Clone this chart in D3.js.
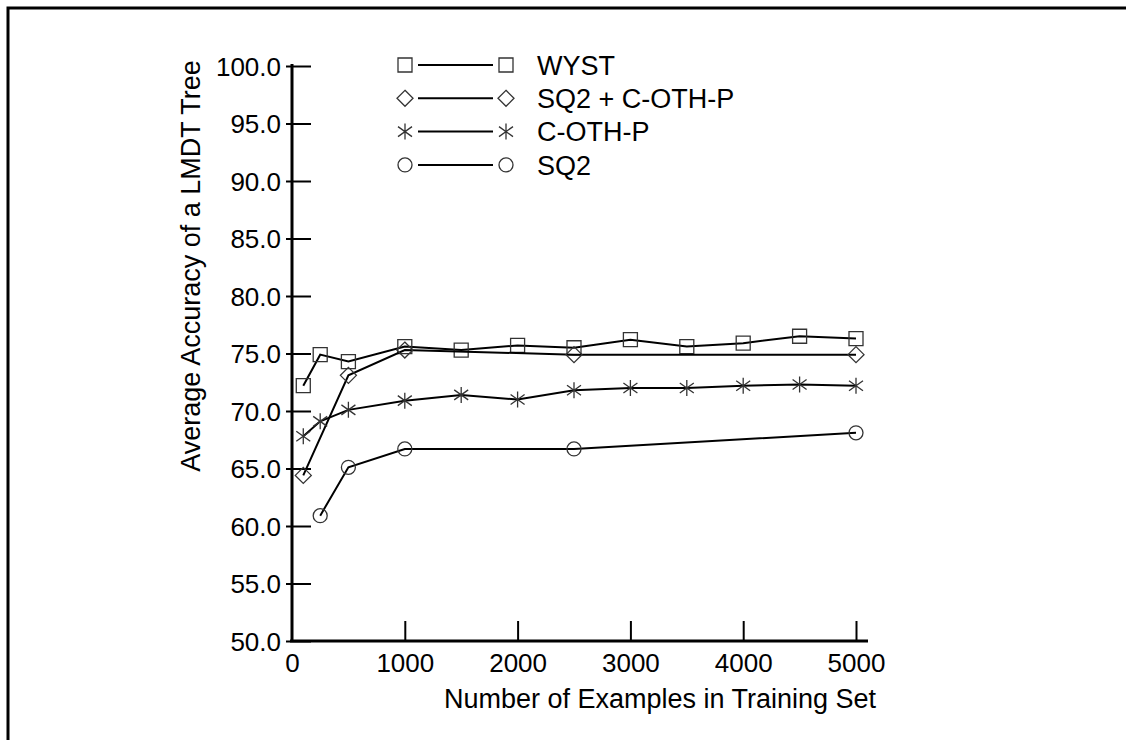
<!DOCTYPE html>
<html><head><meta charset="utf-8">
<script src="https://cdn.jsdelivr.net/npm/d3@7"></script>
<style>
html,body{margin:0;padding:0;background:#fff;}
text{font-family:"Liberation Sans",Arial,Helvetica,sans-serif;fill:#000;}
</style></head>
<body>
<svg id="c" width="1126" height="740"></svg>
<script>
// ---- data ----
const seriesNames = ["WYST", "SQ2 + C-OTH-P", "C-OTH-P", "SQ2"];
const wystX = [100, 250, 500, 1000, 1500, 2000, 2500, 3000, 3500, 4000, 4500, 5000];
const wystY = [72.2, 74.9, 74.3, 75.6, 75.3, 75.7, 75.5, 76.2, 75.6, 75.9, 76.5, 76.3];
const combX = [100, 500, 1000, 2500, 5000];
const combY = [64.4, 73.1, 75.3, 74.9, 74.9];
const cothX = [100, 250, 500, 1000, 1500, 2000, 2500, 3000, 3500, 4000, 4500, 5000];
const cothY = [67.8, 69.1, 70.1, 70.9, 71.4, 71.0, 71.8, 72.0, 72.0, 72.2, 72.3, 72.2];
const sq2X = [250, 500, 1000, 2500, 5000];
const sq2Y = [60.9, 65.1, 66.7, 66.7, 68.1];
const yTicks = [50, 55, 60, 65, 70, 75, 80, 85, 90, 95, 100];
const xTicks = [0, 1000, 2000, 3000, 4000, 5000];
const xTitle = "Number of Examples in Training Set";
const yTitle = "Average Accuracy of a LMDT Tree";

const svg = d3.select("#c");
const x = d3.scaleLinear().domain([0, 5000]).range([292, 856]);
const y = d3.scaleLinear().domain([50, 100]).range([641, 66]);

// frame
svg.append("path").attr("d", "M8,740 L8,8 L1126,8").attr("fill", "none")
  .attr("stroke", "#000").attr("stroke-width", 3);

const FS = 26;

// y axis
const yAxis = svg.append("g").attr("transform", `translate(${x(0)},0)`)
  .call(d3.axisLeft(y).tickValues(yTicks).tickFormat(d3.format(".1f")).tickSize(0).tickPadding(11));
yAxis.select(".domain").remove();
yAxis.selectAll(".tick line").attr("x1", -6).attr("x2", 19).attr("stroke", "#000").attr("stroke-width", 2);
yAxis.selectAll(".tick text").attr("font-size", FS).attr("font-family", null).attr("dy", "0.36em");
svg.append("line").attr("x1", x(0)).attr("x2", x(0)).attr("y1", y(100) - 2).attr("y2", y(50) + 1)
  .attr("stroke", "#000").attr("stroke-width", 3);

// x axis
const xAxis = svg.append("g").attr("transform", `translate(0,${y(50)})`)
  .call(d3.axisBottom(x).tickValues(xTicks).tickFormat(d3.format("d")).tickSize(0).tickPadding(13));
xAxis.select(".domain").remove();
xAxis.selectAll(".tick text").attr("font-size", FS).attr("font-family", null).attr("dy", "0.71em");
xAxis.selectAll(".tick").filter(d => d !== 0).select("line").attr("y2", -20).attr("stroke", "#000").attr("stroke-width", 2);
svg.append("line").attr("x1", x(0) - 2).attr("x2", x(5000) + 12).attr("y1", y(50)).attr("y2", y(50))
  .attr("stroke", "#000").attr("stroke-width", 3);

// titles
svg.append("text").attr("x", 660).attr("y", 708).attr("text-anchor", "middle")
  .attr("font-size", 27).text(xTitle);
svg.append("text").attr("transform", "translate(200,266) rotate(-90)").attr("text-anchor", "middle")
  .attr("font-size", 27).text(yTitle);

// marker symbols
function markerPath(kind) {
  if (kind === "square") return "M-7,-7H7V7H-7Z";
  if (kind === "diamond") return "M0,-8L8,0L0,8L-8,0Z";
  if (kind === "circle") return "M7,0A7,7 0 1,1 -7,0A7,7 0 1,1 7,0Z";
  // asterisk: vertical + X
  return "M0,-8V8M-7,-5L7,5M-7,5L7,-5";
}
const series = [
  { name: seriesNames[0], xs: wystX, ys: wystY, kind: "square" },
  { name: seriesNames[1], xs: combX, ys: combY, kind: "diamond" },
  { name: seriesNames[2], xs: cothX, ys: cothY, kind: "asterisk" },
  { name: seriesNames[3], xs: sq2X, ys: sq2Y, kind: "circle" }
];
const line = d3.line().x(d => x(d[0])).y(d => y(d[1]));
series.forEach(s => {
  const pts = s.xs.map((v, i) => [v, s.ys[i]]);
  svg.append("path").attr("d", line(pts)).attr("fill", "none").attr("stroke", "#000").attr("stroke-width", 2);
  svg.append("g").selectAll("path").data(pts).join("path")
    .attr("transform", d => `translate(${x(d[0])},${y(d[1])})`)
    .attr("d", markerPath(s.kind)).attr("fill", "none").attr("stroke", "#333").attr("stroke-width", 1.3);
});

// legend
const lg = svg.append("g");
series.forEach((s, i) => {
  const yy = 65 + i * 33.3;
  lg.append("path").attr("transform", `translate(405,${yy})`).attr("d", markerPath(s.kind))
    .attr("fill", "none").attr("stroke", "#333").attr("stroke-width", 1.3);
  lg.append("path").attr("transform", `translate(506,${yy})`).attr("d", markerPath(s.kind))
    .attr("fill", "none").attr("stroke", "#333").attr("stroke-width", 1.3);
  lg.append("line").attr("x1", 418).attr("x2", 493).attr("y1", yy).attr("y2", yy)
    .attr("stroke", "#000").attr("stroke-width", 2);
  lg.append("text").attr("x", 537).attr("y", yy).attr("dy", "0.36em").attr("font-size", 27).text(s.name);
});
</script>
</body></html>
